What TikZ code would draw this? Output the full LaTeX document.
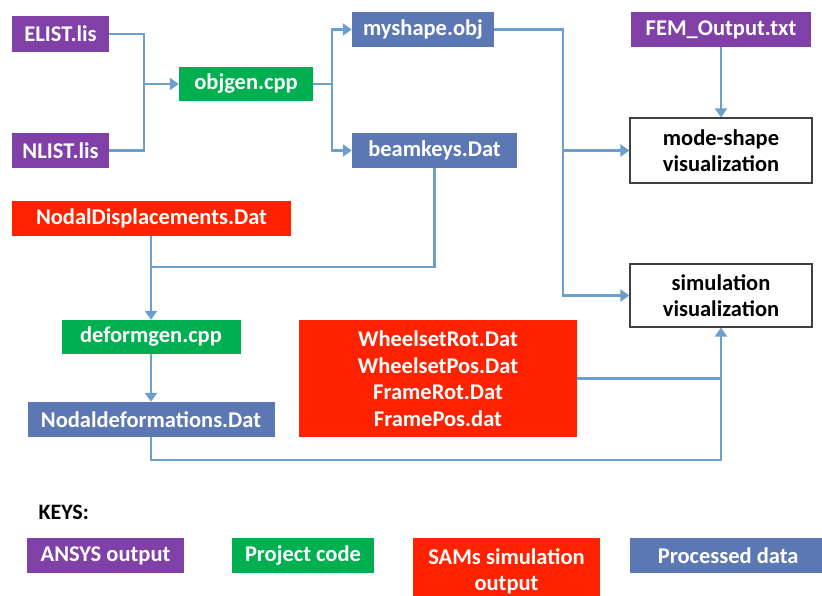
\documentclass[tikz,border=0pt]{standalone}
\usepackage{fontspec}
\setmainfont{Carlito}
\usetikzlibrary{arrows.meta}

\definecolor{ansys}{RGB}{128,64,168}
\definecolor{code}{RGB}{0,176,80}
\definecolor{sams}{RGB}{255,34,0}
\definecolor{processed}{RGB}{91,120,180}
\definecolor{linkblue}{RGB}{108,158,206}

\begin{document}
\begin{tikzpicture}[x=1pt, y=-1pt,
    box/.style={inner sep=0pt, align=center, text=white,
        font=\fontsize{22.5}{26.5}\selectfont\bfseries},
    visbox/.style={box, draw=black!75, line width=1.2pt, fill=white, text=black},
    link/.style={linkblue, line width=2.6pt},
    tolink/.style={link, -{Triangle[length=9pt,width=12pt]}}]
    % page frame, same size as the reference
    \useasboundingbox (0,0) rectangle (822,596);

    % Draw the input files and the first program
    \node[box, fill=ansys, minimum width=97pt, minimum height=36pt] (elist) at (60.5,34) {ELIST.lis};
    \node[box, fill=ansys, minimum width=97pt, minimum height=35pt] (nlist) at (60.5,150.5) {NLIST.lis};
    \node[box, fill=code, minimum width=134pt, minimum height=34pt] (objgen) at (246,84) {objgen.cpp};
    \node[box, fill=processed, minimum width=142pt, minimum height=35pt] (myshape) at (423,29.5) {myshape.obj};
    \node[box, fill=processed, minimum width=165pt, minimum height=35pt] (beamkeys) at (434.5,150.5) {beamkeys.Dat};

    % Draw the two visualization targets
    \node[box, fill=ansys, minimum width=180pt, minimum height=35pt] (femout) at (721,29.5) {FEM\_Output.txt};
    \node[visbox, minimum width=182pt, minimum height=65pt] (modeshape) at (721,150.5) {mode-shape\\visualization};
    \node[visbox, minimum width=182pt, minimum height=63pt] (simvis) at (721,295.5) {simulation\\visualization};

    % Draw the deformation chain
    \node[box, fill=sams, minimum width=279pt, minimum height=35pt] (nodaldisp) at (151.5,218.5) {NodalDisplacements.Dat};
    \node[box, fill=code, minimum width=179pt, minimum height=34pt] (deformgen) at (151,337) {deformgen.cpp};
    \node[box, fill=processed, minimum width=247pt, minimum height=35pt] (nodaldef) at (151,419.5) {Nodaldeformations.Dat};
    \node[box, fill=sams, minimum width=278pt, minimum height=117pt] (wheelset) at (438,378.5)
        {WheelsetRot.Dat\\WheelsetPos.Dat\\FrameRot.Dat\\FramePos.dat};

    % Junction points of the connectors
    \coordinate (jin) at (144,84);
    \coordinate (jout) at (332,84);
    \coordinate (jsim) at (563,295.5);
    \coordinate (jdisp) at (151,267);
    \coordinate (jbot) at (721,460);

    % Connect everything
    \draw[link] (elist.east) -| (jin);
    \draw[link] (nlist.east) -| (jin);
    \draw[tolink] (jin) -- (objgen.west);
    \draw[link] (objgen.east) -- (jout);
    \draw[tolink] (jout) |- (myshape.west);
    \draw[tolink] (jout) |- (beamkeys.west);
    \draw[tolink] (myshape.east) -| (jsim) -- (simvis.west);
    \draw[tolink] (jsim |- modeshape.west) -- (modeshape.west);
    \draw[tolink] (femout.south) -- (modeshape.north);
    \draw[link] (beamkeys.south) |- (jdisp);
    \draw[tolink] (jdisp |- nodaldisp.south) -- (deformgen.north);
    \draw[tolink] (deformgen.south) -- (nodaldef.north);
    \draw[tolink] (nodaldef.south) |- (jbot) -- (simvis.south);
    \draw[link] (wheelset.east) -- (wheelset.east -| jbot);

    % Legend
    \node[anchor=west, font=\fontsize{22}{24}\selectfont\bfseries] (keys) at (35,512) {KEYS:};
    \node[box, fill=ansys, minimum width=157pt, minimum height=35pt] (keyansys) at (105.5,555.5) {ANSYS output};
    \node[box, fill=code, minimum width=142pt, minimum height=35pt] (keycode) at (303,555.5) {Project code};
    \node[box, fill=sams, minimum width=187pt, minimum height=66pt, anchor=north] (keysams) at (506.5,538) {SAMs simulation\\output};
    \node[box, fill=processed, minimum width=196pt, minimum height=35pt, anchor=north west] (keyproc) at (630,538) {Processed data};
\end{tikzpicture}
\end{document}
